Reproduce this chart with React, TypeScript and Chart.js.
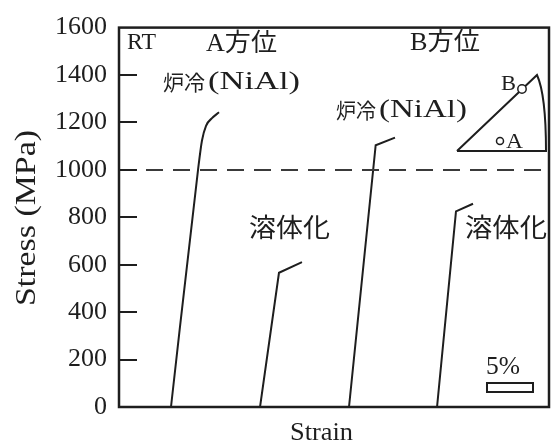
import React, { useEffect, useRef } from "react";
import { Chart, registerables } from "chart.js";

Chart.register(...registerables);

// ---- data (strain in %, stress in MPa) ----
const strainAFurnace = [5.65, 8.59, 9.02, 9.46, 10.11, 10.87];
const stressAFurnace = [0, 1000, 1124, 1186, 1218, 1243];

const strainASolution = [15.33, 17.39, 19.89];
const stressASolution = [0, 566, 611];

const strainBFurnace = [25.0, 27.9, 30.0];
const stressBFurnace = [0, 1104, 1136];

const strainBSolution = [34.57, 36.63, 38.48];
const stressBSolution = [0, 825, 857];

const refStress = 1000;
const strainMin = 0;
const strainMax = 46.74;
const stressMin = 0;
const stressMax = 1600;
const stressStep = 200;
const scaleBarStart = 40;
const scaleBarLength = 5;
const scaleBarLabel = "5%";

const SERIF = '"Liberation Serif", "Noto Sans CJK JP", serif';
const CJK = '"Noto Sans CJK JP", "Liberation Serif", sans-serif';
const INK = "#1e1e1e";

function pts(xs: number[], ys: number[]) {
  return xs.map((x, i) => ({ x, y: ys[i] }));
}

function drawFit(
  ctx: CanvasRenderingContext2D,
  text: string,
  left: number,
  right: number,
  cy: number,
  size: number,
  family = SERIF
) {
  ctx.save();
  ctx.font = `${size}px ${family}`;
  ctx.textAlign = "left";
  ctx.textBaseline = "middle";
  ctx.fillStyle = INK;
  const w = ctx.measureText(text).width;
  ctx.translate(left, cy);
  ctx.scale((right - left) / w, 1);
  ctx.fillText(text, 0, 0);
  ctx.restore();
}

export default function App() {
  const ref = useRef<HTMLCanvasElement>(null);

  useEffect(() => {
    document.body.style.margin = "0";
    const canvas = ref.current!;

    const overlay = {
      id: "overlay",
      afterDraw(chart: any) {
        const ctx: CanvasRenderingContext2D = chart.ctx;
        const a = chart.chartArea;
        const xs = chart.scales.x;
        const ys = chart.scales.y;

        ctx.save();
        // frame
        ctx.strokeStyle = INK;
        ctx.lineWidth = 2.5;
        ctx.strokeRect(a.left, a.top, a.right - a.left, a.bottom - a.top);

        // inward ticks
        ctx.lineWidth = 2;
        ys.ticks.forEach((t: any) => {
          if (t.value <= stressMin || t.value >= stressMax) return;
          const y = Math.round(ys.getPixelForValue(t.value));
          ctx.beginPath();
          ctx.moveTo(a.left, y);
          ctx.lineTo(a.left + 18, y);
          ctx.stroke();
        });

        // scale bar
        const bx0 = xs.getPixelForValue(scaleBarStart);
        const bx1 = xs.getPixelForValue(scaleBarStart + scaleBarLength);
        ctx.lineWidth = 2;
        ctx.strokeRect(bx0, 383, bx1 - bx0, 9);
        drawFit(ctx, scaleBarLabel, bx0 - 1, bx0 + 33, 367, 25);

        // inset standard triangle
        ctx.lineWidth = 2;
        ctx.beginPath();
        ctx.moveTo(457, 151);
        ctx.lineTo(546, 151);
        ctx.quadraticCurveTo(546, 95, 537, 75);
        ctx.lineTo(457, 151);
        ctx.stroke();
        ctx.lineWidth = 1.5;
        ctx.fillStyle = "#fff";
        ctx.beginPath();
        ctx.arc(522, 89, 4.2, 0, Math.PI * 2);
        ctx.fill();
        ctx.stroke();
        ctx.beginPath();
        ctx.arc(500, 141, 3.5, 0, Math.PI * 2);
        ctx.stroke();
        drawFit(ctx, "B", 501, 516, 84, 22);
        drawFit(ctx, "A", 506, 523, 142, 21);

        // annotations
        drawFit(ctx, "RT", 127, 156, 43, 24);
        drawFit(ctx, "A方位", 206, 277, 44, 25);
        drawFit(ctx, "B方位", 410, 480, 43, 25);
        drawFit(ctx, "炉冷", 163, 205, 82, 21, CJK);
        drawFit(ctx, "(NiAl)", 208, 300, 82, 26);
        drawFit(ctx, "炉冷", 336, 376, 110, 21, CJK);
        drawFit(ctx, "(NiAl)", 379, 467, 110, 26);
        drawFit(ctx, "溶体化", 249, 330, 227, 26, CJK);
        drawFit(ctx, "溶体化", 465, 547, 227, 26, CJK);

        // axis titles
        drawFit(ctx, "Strain", 290, 353, 433, 26);
        ctx.save();
        ctx.translate(27, 218);
        ctx.rotate(-Math.PI / 2);
        drawFit(ctx, "Stress (MPa)", -88, 88, 0, 29);
        ctx.restore();

        ctx.restore();
      },
    };

    const line = (data: { x: number; y: number }[], extra: any = {}) => ({
      data,
      showLine: true,
      borderColor: INK,
      borderWidth: 2,
      pointRadius: 0,
      tension: 0,
      ...extra,
    });

    const chart = new Chart(canvas, {
      type: "scatter",
      data: {
        datasets: [
          line(
            [
              { x: strainMin, y: refStress },
              { x: strainMax, y: refStress },
            ],
            { borderDash: [17, 10], borderColor: "#3a3a3a", borderWidth: 2 }
          ),
          line(pts(strainAFurnace, stressAFurnace), { cubicInterpolationMode: "monotone" }),
          line(pts(strainASolution, stressASolution)),
          line(pts(strainBFurnace, stressBFurnace)),
          line(pts(strainBSolution, stressBSolution)),
        ] as any,
      },
      options: {
        responsive: false,
        animation: false,
        events: [],
        layout: { padding: { top: 17, right: 4, left: 0, bottom: 0 } },
        plugins: { legend: { display: false }, tooltip: { enabled: false } },
        scales: {
          x: {
            type: "linear",
            min: strainMin,
            max: strainMax,
            grid: { display: false },
            border: { display: false },
            ticks: { display: false },
            afterFit: (s: any) => {
              s.height = 39;
            },
          },
          y: {
            type: "linear",
            min: stressMin,
            max: stressMax,
            grid: { display: false, drawTicks: false },
            border: { display: false },
            ticks: {
              stepSize: stressStep,
              padding: 12,
              color: INK,
              font: { family: "Liberation Serif", size: 26 },
              callback: (v: any) => String(v),
            },
            afterFit: (s: any) => {
              s.width = 119;
            },
          },
        },
      } as any,
      plugins: [overlay],
    });
    return () => chart.destroy();
  }, []);

  return (
    <div style={{ width: 553, height: 446, background: "#fff" }}>
      <canvas ref={ref} width={553} height={446} style={{ display: "block", width: 553, height: 446 }} />
    </div>
  );
}
